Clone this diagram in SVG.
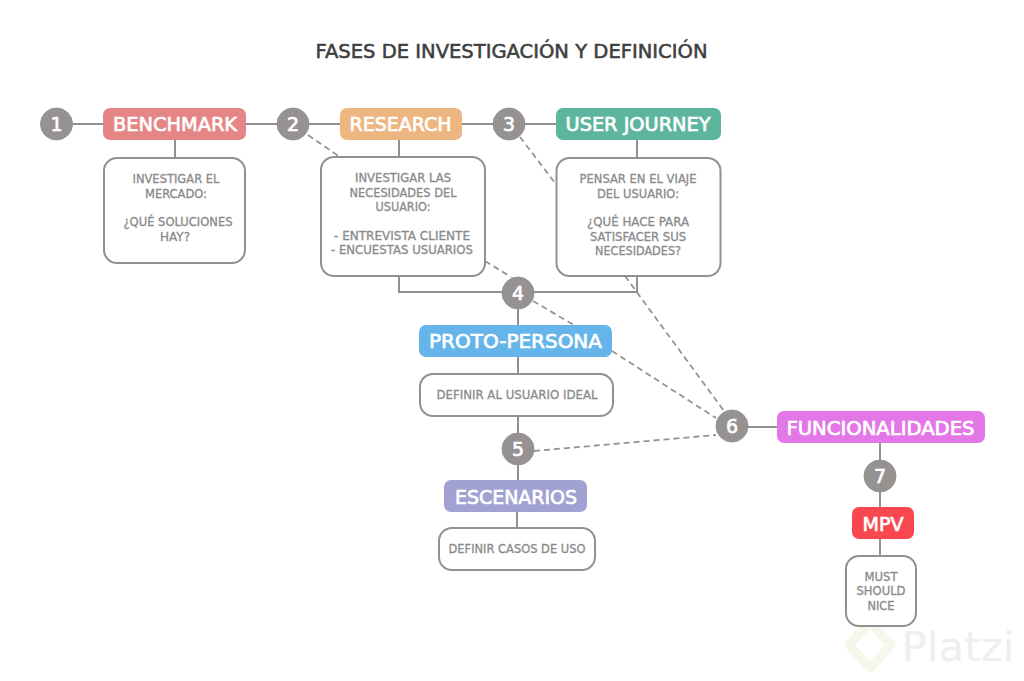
<svg xmlns="http://www.w3.org/2000/svg" width="1024" height="681" viewBox="0 0 1024 681">
<style>
text{font-family:"DejaVu Sans","Open Sans",sans-serif;text-anchor:middle}
.t{fill:#3f3f3f;font-size:19px;stroke:#3f3f3f;stroke-width:.55}
.n{fill:#979292;stroke:#979292;stroke-width:1}
.nt{fill:#fff;font-size:19px;stroke:#fff;stroke-width:.7}
.h{stroke:none;}
.ht{fill:#fff;font-size:19.500px;stroke:#fff;stroke-width:.7}
.b{fill:#fff;stroke:#919191;stroke-width:2}
.bt{fill:#8a8a8a;font-size:11.500px;stroke:#8a8a8a;stroke-width:.3}
.c{fill:none;stroke:#919191;stroke-width:2}
.d{fill:none;stroke:#949494;stroke-width:1.8;stroke-dasharray:6 4}
</style>
<rect width="1024" height="681" fill="#fff"/>
<text class="t" x="511.500" y="58" textLength="392" lengthAdjust="spacingAndGlyphs">FASES DE INVESTIGACIÓN Y DEFINICIÓN</text>
<g id="watermark">
<path d="M870 622L849 645L870 668L891 645Z" fill="none" stroke="#f5f7ea" stroke-width="9" stroke-linejoin="round"/>
<text x="958" y="661" font-size="40" fill="#eeeeee" textLength="113" lengthAdjust="spacingAndGlyphs">Platzi</text>
</g>
<g id="connectors">
<path class="c" d="M72 124H103M246 124H277M309 124H340M462 124H493M525 124H556M175 140V158M399 140V157M637 140V158M399 276V292H637V276M518 309V325M518 357V374M518 416V433M518 465V480M517 512V528M748 427H777M880 443V460M880 492V507M880 539V556"/>
<path class="d" d="M308 135L340 157M520 137L555 183M485 261L511 277M533 301L574 325M612 351L716 418M625 276L724 411M534 451L716 435"/>
</g>
<g id="n1"><circle class="n" cx="56.500" cy="124" r="16"/><text class="nt" x="56.500" y="131">1</text></g>
<g id="n2"><circle class="n" cx="293" cy="124" r="16"/><text class="nt" x="293" y="131">2</text></g>
<g id="n3"><circle class="n" cx="509" cy="124" r="16"/><text class="nt" x="509" y="131">3</text></g>
<g id="n4"><circle class="n" cx="518" cy="293" r="16"/><text class="nt" x="518" y="300">4</text></g>
<g id="n5"><circle class="n" cx="518" cy="449" r="16"/><text class="nt" x="518" y="456">5</text></g>
<g id="n6"><circle class="n" cx="732" cy="426" r="16"/><text class="nt" x="732" y="433">6</text></g>
<g id="n7"><circle class="n" cx="880" cy="476" r="16"/><text class="nt" x="880" y="483">7</text></g>
<g id="benchmark"><rect class="h" x="103" y="108" width="143" height="32" rx="7" fill="#e58585"/><text class="ht" x="175" y="131" textLength="124" lengthAdjust="spacingAndGlyphs">BENCHMARK</text></g>
<g id="research"><rect class="h" x="340" y="108" width="122" height="32" rx="7" fill="#edb57f"/><text class="ht" x="400.500" y="131" textLength="102" lengthAdjust="spacingAndGlyphs">RESEARCH</text></g>
<g id="userjourney"><rect class="h" x="556" y="108" width="165" height="32" rx="7" fill="#5cb59c"/><text class="ht" x="638" y="131" textLength="145" lengthAdjust="spacingAndGlyphs">USER JOURNEY</text></g>
<g id="proto"><rect class="h" x="419" y="325" width="193" height="32" rx="7" fill="#66b5ea"/><text class="ht" x="515.500" y="348" textLength="173" lengthAdjust="spacingAndGlyphs">PROTO-PERSONA</text></g>
<g id="escenarios"><rect class="h" x="444" y="480" width="143" height="32" rx="7" fill="#a2a2d2"/><text class="ht" x="516" y="504" textLength="122" lengthAdjust="spacingAndGlyphs">ESCENARIOS</text></g>
<g id="funcionalidades"><rect class="h" x="777" y="411" width="208" height="32" rx="7" fill="#e377e8"/><text class="ht" x="880.500" y="435" textLength="188" lengthAdjust="spacingAndGlyphs">FUNCIONALIDADES</text></g>
<g id="mpv"><rect class="h" x="852" y="507" width="62" height="32" rx="7" fill="#f9474f"/><text class="ht" x="883" y="531" textLength="41" lengthAdjust="spacingAndGlyphs">MPV</text></g>
<g id="box1"><rect class="b" x="104" y="158" width="141" height="105" rx="13"/>
<text class="bt" x="176" y="183" textLength="87" lengthAdjust="spacingAndGlyphs">INVESTIGAR EL</text><text class="bt" x="176" y="198" textLength="62" lengthAdjust="spacingAndGlyphs">MERCADO:</text><text class="bt" x="178" y="226" textLength="109" lengthAdjust="spacingAndGlyphs">¿QUÉ SOLUCIONES</text><text class="bt" x="175" y="241" textLength="30" lengthAdjust="spacingAndGlyphs">HAY?</text></g>
<g id="box2"><rect class="b" x="321" y="157" width="164" height="119" rx="13"/>
<text class="bt" x="403" y="182" textLength="96" lengthAdjust="spacingAndGlyphs">INVESTIGAR LAS</text><text class="bt" x="403" y="197" textLength="107" lengthAdjust="spacingAndGlyphs">NECESIDADES DEL</text><text class="bt" x="403" y="211" textLength="55" lengthAdjust="spacingAndGlyphs">USUARIO:</text><text class="bt" x="402" y="240" textLength="136" lengthAdjust="spacingAndGlyphs">- ENTREVISTA CLIENTE</text><text class="bt" x="402" y="254" textLength="142" lengthAdjust="spacingAndGlyphs">- ENCUESTAS USUARIOS</text></g>
<g id="box3"><rect class="b" x="556.500" y="158" width="164" height="118" rx="13"/>
<text class="bt" x="638" y="183" textLength="117" lengthAdjust="spacingAndGlyphs">PENSAR EN EL VIAJE</text><text class="bt" x="638" y="198" textLength="82" lengthAdjust="spacingAndGlyphs">DEL USUARIO:</text><text class="bt" x="638" y="226" textLength="102" lengthAdjust="spacingAndGlyphs">¿QUÉ HACE PARA</text><text class="bt" x="638" y="241" textLength="96" lengthAdjust="spacingAndGlyphs">SATISFACER SUS</text><text class="bt" x="638" y="255" textLength="86" lengthAdjust="spacingAndGlyphs">NECESIDADES?</text></g>
<g id="box4"><rect class="b" x="420" y="374" width="193" height="42" rx="13"/><text class="bt" x="517" y="399" textLength="161" lengthAdjust="spacingAndGlyphs">DEFINIR AL USUARIO IDEAL</text></g>
<g id="box5"><rect class="b" x="439" y="528" width="156" height="42" rx="13"/><text class="bt" x="517" y="553" textLength="137" lengthAdjust="spacingAndGlyphs">DEFINIR CASOS DE USO</text></g>
<g id="box6"><rect class="b" x="846" y="556" width="70" height="70" rx="13"/><text class="bt" x="881" y="581" textLength="33" lengthAdjust="spacingAndGlyphs">MUST</text><text class="bt" x="881" y="595" textLength="49" lengthAdjust="spacingAndGlyphs">SHOULD</text><text class="bt" x="881" y="610" textLength="27" lengthAdjust="spacingAndGlyphs">NICE</text></g>
</svg>
